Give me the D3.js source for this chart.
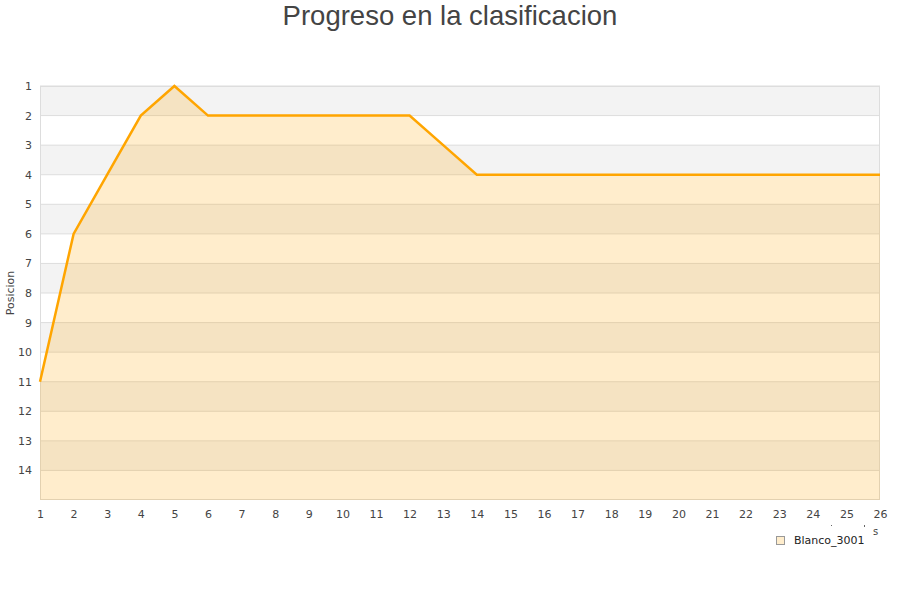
<!DOCTYPE html>
<html><head><meta charset="utf-8">
<script src="https://cdn.jsdelivr.net/npm/d3@7"></script>
<style>body{margin:0;background:#fff}svg{display:block;font-family:"DejaVu Sans",sans-serif}</style>
</head><body><svg id="c" width="900" height="600"></svg>
<script>
const rounds = [1,2,3,4,5,6,7,8,9,10,11,12,13,14,15,16,17,18,19,20,21,22,23,24,25,26];
const positions = [11,6,4,2,1,2,2,2,2,2,2,2,3,4,4,4,4,4,4,4,4,4,4,4,4,4];
const yTicks = [1,2,3,4,5,6,7,8,9,10,11,12,13,14];
const seriesName = "Blanco_3001";
const title = "Progreso en la clasificacion";
const yTitle = "Posicion";

const svg = d3.select("#c");
const L=40,R=880,T=86,B=500;
const x = d3.scaleLinear().domain([1,26]).range([L,R]);
const y = d3.scaleLinear().domain([1,15]).range([T,B]);

// bands
const g = svg.append("g");
yTicks.forEach((t,i)=>{
  g.append("rect").attr("x",L).attr("y",y(t)).attr("width",R-L).attr("height",y(t+1)-y(t))
   .attr("fill", i%2===0 ? "#f3f3f3" : "#ffffff");
});
// grid lines
yTicks.forEach(t=>{
  g.append("line").attr("x1",L).attr("x2",R).attr("y1",y(t)).attr("y2",y(t)).attr("stroke","#dddddd").attr("stroke-width",1);
});
// border
svg.append("rect").attr("x",L+0.5).attr("y",T+0.5).attr("width",R-L-1).attr("height",B-T-1)
  .attr("fill","none").attr("stroke","#dddddd");

const data = rounds.map((r,i)=>({r,p:positions[i]}));
svg.append("path").datum(data)
  .attr("d", d3.area().x(d=>x(d.r)).y0(B).y1(d=>y(d.p)))
  .attr("fill","#ffa500").attr("fill-opacity",0.2);
svg.append("path").datum(data)
  .attr("d", d3.line().x(d=>x(d.r)).y(d=>y(d.p)))
  .attr("fill","none").attr("stroke","#ffa500").attr("stroke-width",2.5);

// y axis
const ya = svg.append("g").attr("transform",`translate(${L},0)`)
  .call(d3.axisLeft(y).tickValues(yTicks).tickSize(0).tickPadding(8).tickFormat(d3.format("d")));
ya.select(".domain").remove();
ya.selectAll("text").attr("font-size",11).attr("fill","#444").attr("font-family","DejaVu Sans");

// x axis
const xa = svg.append("g").attr("transform",`translate(0,${B})`)
  .call(d3.axisBottom(x).tickValues(rounds).tickSize(0).tickPadding(10).tickFormat(d3.format("d")));
xa.select(".domain").remove();
xa.selectAll("text").attr("font-size",11).attr("fill","#444").attr("font-family","DejaVu Sans");

// truncated x title
svg.append("text").attr("x",873).attr("y",535).attr("text-anchor","start").attr("font-size",10).attr("fill","#444").text("s");
svg.append("rect").attr("x",831).attr("y",525).attr("width",1).attr("height",1).attr("fill","#666");
svg.append("rect").attr("x",864).attr("y",525).attr("width",1).attr("height",2).attr("fill","#666");

// title
svg.append("text").attr("x",450).attr("y",25).attr("text-anchor","middle")
  .attr("font-size",27.5).attr("fill","#444").attr("font-family","Liberation Sans, Arial, sans-serif").text(title);

// y title
svg.append("text").attr("transform","translate(14,293) rotate(-90)").attr("text-anchor","middle")
  .attr("font-size",11).attr("fill","#444").text(yTitle);

// legend
svg.append("rect").attr("x",776.5).attr("y",536.5).attr("width",8).attr("height",8)
  .attr("fill","#ffedcc").attr("stroke","#999");
svg.append("text").attr("x",794).attr("y",544).attr("font-size",11).attr("fill","#222").text(seriesName);
</script></body></html>
